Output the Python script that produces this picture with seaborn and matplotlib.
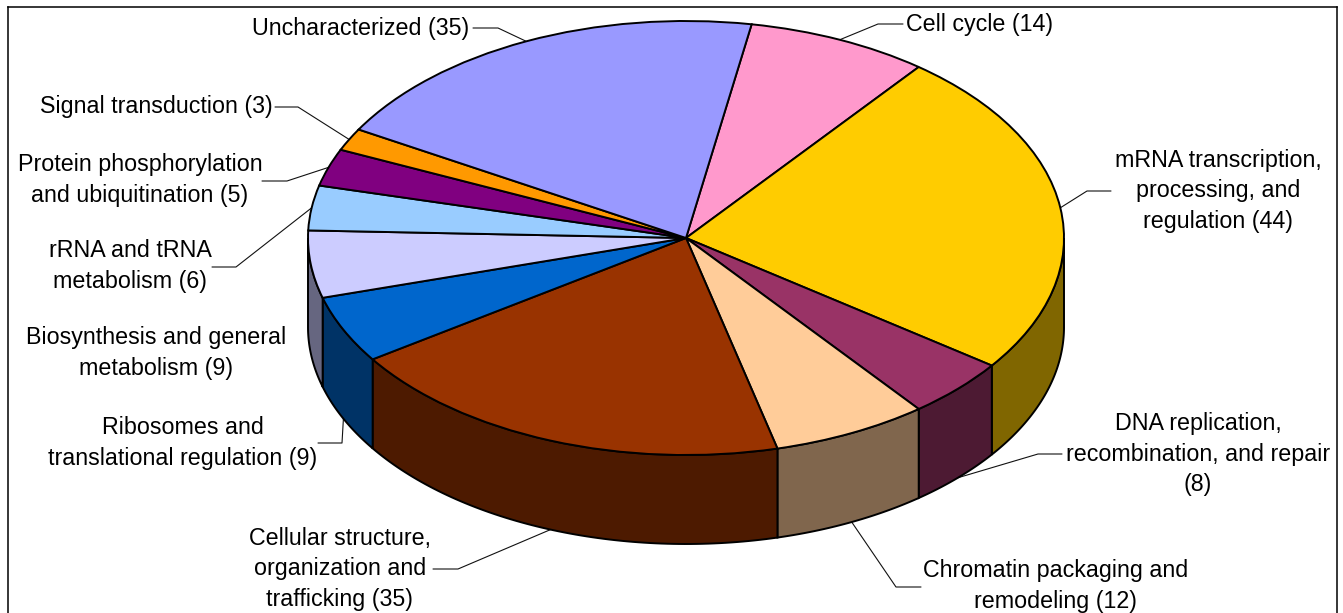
import numpy as np
import matplotlib
matplotlib.use("Agg")
import matplotlib.pyplot as plt
import seaborn as sns

categories = [
    "Cell cycle (14)",
    "mRNA transcription,\nprocessing, and\nregulation (44)",
    "DNA replication,\nrecombination, and repair\n(8)",
    "Chromatin packaging and\nremodeling (12)",
    "Cellular structure,\norganization and\ntrafficking (35)",
    "Ribosomes and\ntranslational regulation (9)",
    "Biosynthesis and general\nmetabolism (9)",
    "rRNA and tRNA\nmetabolism (6)",
    "Protein phosphorylation\nand ubiquitination (5)",
    "Signal transduction (3)",
    "Uncharacterized (35)",
]
counts = [14, 44, 8, 12, 35, 9, 9, 6, 5, 3, 35]
colors = ["#FF99CC", "#FFCC00", "#993366", "#FFCC99", "#993300", "#0066CC",
          "#CCCCFF", "#99CCFF", "#800080", "#FF9900", "#9999FF"]

# label centres and leader elbows, in image pixels
label_pos = [(980, 25), (1218, 191), (1198, 454), (1056, 586), (340, 569), (183, 443),
             (156, 353), (130, 266), (140, 180), (156, 107), (361, 29)]
elbows = [[(878, 24), (903, 24)], [(1087, 191), (1111, 191)], [(1038, 454), (1062, 454)],
          [(896, 587), (921, 587)], [(458, 569), (433, 569)], [(342, 443), (318, 443)],
          None, [(236, 267), (212, 267)], [(287, 181), (262, 181)],
          [(298, 107), (275, 107)], [(498, 28), (473, 28)]]

W, H = 1343, 613
CX, CY, RX, RY, DEPTH = 686, 238, 378, 217, 89
START = 10  # degrees clockwise from the top
LW = 1.4

sns.set_theme(style="white", font="Liberation Sans")
plt.rcParams["axes.edgecolor"] = "black"
plt.rcParams["axes.linewidth"] = 1.1

left, right, top = 8, 1337, 7
fig = plt.figure(figsize=(W / 100, H / 100), dpi=100, facecolor="white")
ax = fig.add_axes([left / W, 0, (right - left) / W, 1 - top / H])


def px(x, y):
    return (x - CX) / RX, (CY - y) / RY


palette = sns.color_palette(colors)
ax.pie(counts, colors=palette, startangle=90 - START, counterclock=False, radius=1,
       wedgeprops={"edgecolor": "black", "linewidth": LW, "zorder": 3})

# pie() forces equal aspect: squash the circle into the tilted ellipse
ax.set_aspect("auto")
ax.set_frame_on(True)
ax.set_xlim(px(left, 0)[0], px(right, 0)[0])
ax.set_ylim(px(0, H)[1], px(0, top)[1])
ax.spines["bottom"].set_visible(False)

edges = START + np.concatenate([[0], np.cumsum(counts)]) * 360 / sum(counts)
depth = DEPTH / RY

# side walls, only the part of the rim that faces the viewer
for a0, a1, c in zip(edges[:-1], edges[1:], palette):
    lo, hi = max(a0, 90), min(a1, 270)
    if lo >= hi:
        continue
    t = np.radians(np.linspace(lo, hi, 80))
    xs = np.concatenate([np.sin(t), np.sin(t[::-1])])
    ys = np.concatenate([np.cos(t), np.cos(t[::-1]) - depth])
    side = tuple(0.5 * v for v in c)
    ax.fill(xs, ys, facecolor=side, edgecolor="black", linewidth=LW, zorder=2)

# leaders start on the rim at the middle of each slice
for a0, a1, label, pos, elbow in zip(edges[:-1], edges[1:], categories, label_pos, elbows):
    ax.text(*px(*pos), label, ha="center", va="center", fontsize=16.75,
            linespacing=1.39, color="black", zorder=5)
    if elbow is None:
        continue
    mid = np.radians((a0 + a1) / 2)
    rim_x, rim_y = np.sin(mid), np.cos(mid)
    if np.cos(mid) < 0:
        rim_y -= depth
    pts = [px(*p) for p in elbow]
    ax.plot([rim_x] + [p[0] for p in pts], [rim_y] + [p[1] for p in pts],
            color="#111111", linewidth=0.8, zorder=1)

fig.savefig("out.png", dpi=100)
